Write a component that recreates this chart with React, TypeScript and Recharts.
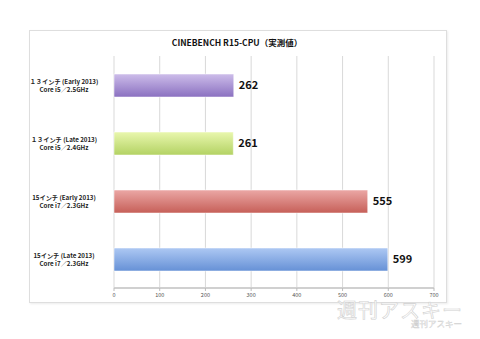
import { BarChart, Bar, XAxis, YAxis, CartesianGrid, Cell, LabelList } from 'recharts'

const categories = [
  ['１３インチ (Early 2013)', 'Core i5／2.5GHz'],
  ['１３インチ (Late 2013)', 'Core i5／2.4GHz'],
  ['15インチ (Early 2013)', 'Core i7／2.3GHz'],
  ['15インチ (Late 2013)', 'Core i7／2.3GHz'],
]
const scores = [262, 261, 555, 599]
const xTicks = [0, 100, 200, 300, 400, 500, 600, 700]

const GRADIENTS = [
  ['#cdbdea', '#8a70c0'],
  ['#e9f7ae', '#b3d263'],
  ['#eba7a5', '#c65f58'],
  ['#adc8f3', '#6691d6'],
]

const FONT = '"Noto Sans CJK JP", "Noto Sans", sans-serif'

const data = categories.map((c, i) => ({ name: c.join('\n'), score: scores[i] }))

function CategoryTick({ x, y, payload }: any) {
  const lines = String(payload.value).split('\n')
  const cx = x - 42
  return (
    <text x={cx} y={y} textAnchor="middle" fontSize={6.2} fontWeight={700} fill="#222" fontFamily={FONT}>
      <tspan x={cx} dy={-1.5}>{lines[0]}</tspan>
      <tspan x={cx} dy={8}>{lines[1]}</tspan>
    </text>
  )
}

export default function App() {
  return (
    <div style={{ position: 'absolute', left: 0, top: 0, width: 480, height: 339, background: '#fff', fontFamily: FONT }}>
      <div
        style={{
          position: 'absolute', left: 29, top: 30, width: 416, height: 271,
          border: '1px solid #dedede', boxShadow: '1px 1px 2px rgba(0,0,0,0.08)',
        }}
      />
      <div style={{ position: 'absolute', left: 0, top: 36, width: 474, textAlign: 'center', fontSize: 8.5, fontWeight: 700, color: '#111' }}>
        CINEBENCH R15-CPU（実測値）
      </div>
      <BarChart
        width={480}
        height={339}
        layout="vertical"
        data={data}
        margin={{ top: 56, right: 46, bottom: 36, left: 29 }}
        barSize={23}
        style={{ position: 'absolute', left: 0, top: 0 }}
      >
        <defs>
          {GRADIENTS.map(([a, b], i) => (
            <linearGradient key={i} id={`g${i}`} x1="0" y1="0" x2="0" y2="1">
              <stop offset="0%" stopColor={a} />
              <stop offset="100%" stopColor={b} />
            </linearGradient>
          ))}
        </defs>
        <CartesianGrid horizontal={false} stroke="#d9d9d9" />
        <XAxis
          type="number"
          domain={[0, 700]}
          ticks={xTicks}
          tick={{ fontSize: 5.5, fill: '#555', fontFamily: FONT }}
          axisLine={{ stroke: '#d0d0d0', strokeWidth: 2 }}
          tickLine={{ stroke: '#bbb' }}
          tickSize={3}
          height={15}
        />
        <YAxis
          type="category"
          dataKey="name"
          width={85}
          tick={<CategoryTick />}
          axisLine={false}
          tickLine={false}
        />
        <Bar dataKey="score" isAnimationActive={false}>
          {data.map((_d, i) => (
            <Cell key={i} fill={`url(#g${i})`} stroke="#ffffff" strokeOpacity={0.5} />
          ))}
          <LabelList dataKey="score" position="right" offset={5} fontSize={11} fontWeight={700} fill="#111" fontFamily={FONT} />
        </Bar>
      </BarChart>
      <div style={{ position: 'absolute', left: 337, top: 300, fontSize: 20, lineHeight: '19px', color: '#fff', WebkitTextStroke: '0.6px #d0d0d0', letterSpacing: 1 }}>
        週刊アスキー
      </div>
      <div style={{ position: 'absolute', left: 411, top: 319, fontSize: 8.5, lineHeight: '9px', color: '#fff', WebkitTextStroke: '0.4px #d0d0d0', letterSpacing: 0 }}>
        週刊アスキー
      </div>
    </div>
  )
}
